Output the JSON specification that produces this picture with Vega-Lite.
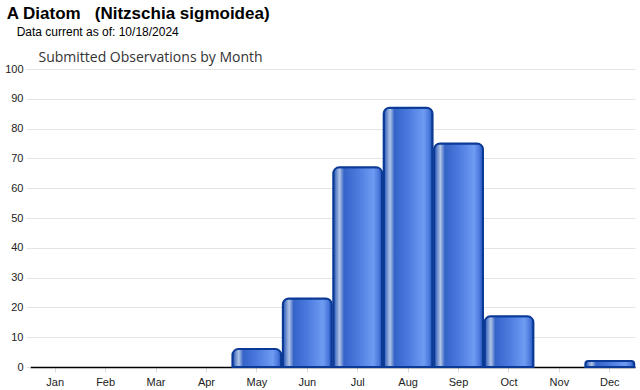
{
  "$schema": "https://vega.github.io/schema/vega-lite/v6.json",
  "width": 640,
  "height": 390,
  "autosize": {"type": "fit", "contains": "padding"},
  "padding": {"left": 4, "top": 5, "right": 4, "bottom": 3},
  "background": "white",
  "title": {
    "text": "A Diatom\u00a0\u00a0\u00a0(Nitzschia sigmoidea)",
    "subtitle": "\u200b\u00a0\u00a0\u00a0Data current as of: 10/18/2024",
    "anchor": "start",
    "frame": "bounds",
    "font": "Liberation Sans",
    "fontSize": 17,
    "fontWeight": "bold",
    "color": "#000000",
    "subtitleFont": "Liberation Sans",
    "subtitleFontSize": 12,
    "subtitleColor": "#000000",
    "subtitlePadding": 4,
    "offset": 11,
    "dx": 2
  },
  "data": {
    "values": [
      {"month": "Jan", "count": 0},
      {"month": "Feb", "count": 0},
      {"month": "Mar", "count": 0},
      {"month": "Apr", "count": 0},
      {"month": "May", "count": 6},
      {"month": "Jun", "count": 23},
      {"month": "Jul", "count": 67},
      {"month": "Aug", "count": 87},
      {"month": "Sep", "count": 75},
      {"month": "Oct", "count": 17},
      {"month": "Nov", "count": 0},
      {"month": "Dec", "count": 2}
    ]
  },
  "layer": [
    {
      "transform": [{"filter": "datum.count > 0"}],
      "mark": {
        "type": "bar",
        "stroke": "#0a3a96",
        "strokeWidth": 2,
        "cornerRadiusTopLeft": 6,
        "cornerRadiusTopRight": 6,
        "color": {
          "gradient": "linear",
          "x1": 0, "y1": 0, "x2": 1, "y2": 0,
          "stops": [
            {"offset": 0, "color": "#1c4fb0"},
            {"offset": 0.07, "color": "#6f8fd0"},
            {"offset": 0.13, "color": "#b0c4e6"},
            {"offset": 0.22, "color": "#3564c8"},
            {"offset": 0.5, "color": "#4a7ade"},
            {"offset": 0.82, "color": "#6e9cf2"},
            {"offset": 0.93, "color": "#4a78dc"},
            {"offset": 1, "color": "#1c4fb0"}
          ]
        }
      },
      "encoding": {
        "x": {
          "field": "month",
          "type": "nominal",
          "sort": null,
          "scale": {
            "domain": ["Jan", "Feb", "Mar", "Apr", "May", "Jun", "Jul", "Aug", "Sep", "Oct", "Nov", "Dec"],
            "paddingInner": 0.03,
            "paddingOuter": 0.015
          },
          "axis": {
            "title": null,
            "labelAngle": 0,
            "labelFont": "Liberation Sans",
            "labelFontSize": 11,
            "labelColor": "#222222",
            "labelPadding": 4,
            "domain": true,
            "domainColor": "#000000",
            "domainWidth": 1.5,
            "ticks": true,
            "tickColor": "#dddddd",
            "tickSize": 5,
            "grid": false
          }
        },
        "y": {
          "field": "count",
          "type": "quantitative",
          "scale": {"domain": [0, 100]},
          "axis": {
            "title": "Submitted Observations by Month",
            "titleAngle": 0,
            "titleAlign": "left",
            "titleBaseline": "bottom",
            "titleX": 8,
            "titleY": -5,
            "titleFont": "Open Sans",
            "titleFontSize": 14,
            "titleFontWeight": "normal",
            "titleColor": "#333333",
            "values": [0, 10, 20, 30, 40, 50, 60, 70, 80, 90, 100],
            "labelOverlap": false,
            "labelFont": "Liberation Sans",
            "labelFontSize": 11,
            "labelColor": "#222222",
            "labelPadding": 3,
            "domain": false,
            "ticks": true,
            "tickColor": "#e4e4e4",
            "tickSize": 4,
            "gridColor": "#e4e4e4",
            "gridWidth": 1
          }
        }
      }
    }
  ],
  "config": {
    "view": {"stroke": null}
  }
}
